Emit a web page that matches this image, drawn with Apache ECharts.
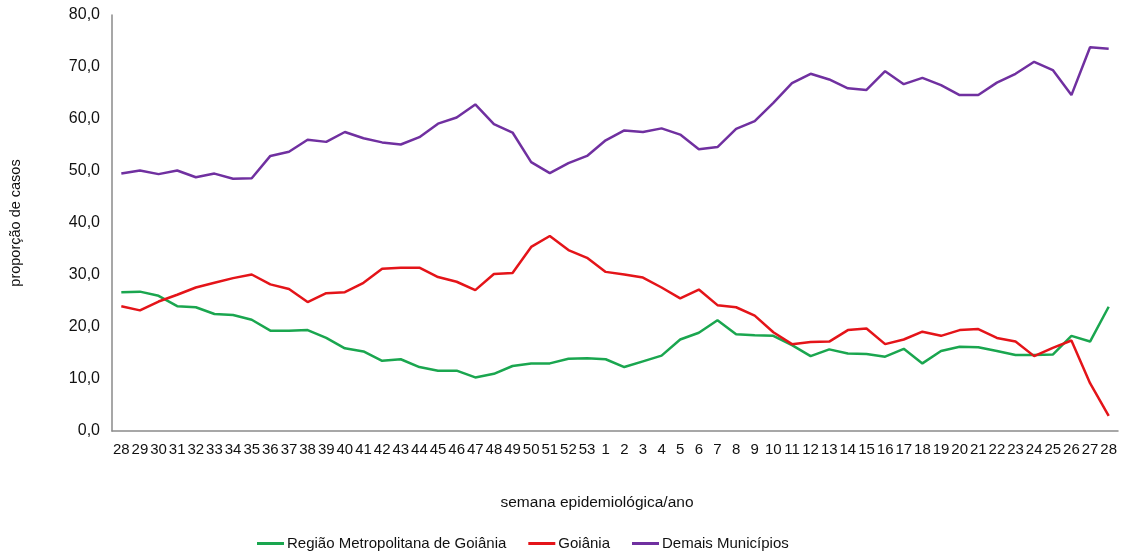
<!DOCTYPE html>
<html>
<head>
<meta charset="utf-8">
<script src="https://cdn.jsdelivr.net/npm/echarts@6/dist/echarts.min.js"></script>
<style>
  html, body { margin: 0; padding: 0; background: #fff; }
  #chart { width: 1126px; height: 551px; }
</style>
</head>
<body>
<div id="chart"></div>
<script>
// semanas epidemiológicas: 28..53 e depois 1..28
const semanas = ['28','29','30','31','32','33','34','35','36','37','38','39','40','41','42','43','44','45','46','47','48','49','50','51','52','53',
  '1','2','3','4','5','6','7','8','9','10','11','12','13','14','15','16','17','18','19','20','21','22','23','24','25','26','27','28']

const regiaoMetropolitana = [26.7, 26.8, 26.0, 24.0, 23.8, 22.5, 22.3, 21.4, 19.3, 19.3, 19.4, 17.9, 15.9, 15.3, 13.5, 13.8, 12.3, 11.6,
  11.6, 10.3, 11.0, 12.5, 13.0, 13.0, 13.9, 14.0, 13.8, 12.3, 13.4, 14.5, 17.6, 18.9, 21.3, 18.6, 18.4, 18.3, 16.5, 14.4,
  15.7, 14.9, 14.8, 14.3, 15.8, 13.0, 15.4, 16.2, 16.1, 15.4, 14.6, 14.6, 14.7, 18.3, 17.2, 23.9]

const goiania = [24.0, 23.2, 24.9, 26.2, 27.6, 28.5, 29.4, 30.1, 28.2, 27.3, 24.8, 26.5, 26.7, 28.5, 31.2, 31.4, 31.4, 29.6,
  28.7, 27.1, 30.2, 30.4, 35.4, 37.5, 34.8, 33.3, 30.6, 30.1, 29.5, 27.6, 25.5, 27.2, 24.2, 23.8, 22.2, 19.0, 16.7, 17.1,
  17.2, 19.4, 19.7, 16.7, 17.6, 19.1, 18.3, 19.4, 19.6, 17.9, 17.2, 14.4, 16.0, 17.4, 9.2, 2.9]

const demaisMunicipios = [49.5, 50.1, 49.4, 50.1, 48.8, 49.5, 48.5, 48.6, 52.9, 53.7, 56.0, 55.6, 57.5, 56.3, 55.5, 55.1, 56.5, 59.1,
  60.3, 62.8, 59.0, 57.4, 51.7, 49.6, 51.5, 52.9, 55.9, 57.8, 57.5, 58.2, 57.0, 54.2, 54.6, 58.1, 59.6, 63.1, 66.9, 68.7,
  67.6, 65.9, 65.6, 69.2, 66.7, 67.9, 66.5, 64.6, 64.6, 67.0, 68.7, 71.0, 69.4, 64.6, 73.8, 73.5]

const fonte = 'Liberation Sans, Arial, sans-serif'

const chart = echarts.init(document.getElementById('chart'))

function serie(name, data, color) {
  return {
    name,
    type: 'line',
    data,
    symbol: 'none',
    lineStyle: { color, width: 2.5 },
    itemStyle: { color },
  }
}

chart.setOption({
  animation: false,
  textStyle: { fontFamily: fonte },
  grid: { left: 109, right: 8, top: 15, bottom: 120, containLabel: false },
  legend: {
    left: 252,
    top: 531,
    icon: 'rect',
    itemWidth: 27,
    itemHeight: 3,
    itemGap: 22,
    textStyle: { fontSize: 15, color: '#111', fontFamily: fonte, padding: [0, 0, 0, -2] },
    data: ['Região Metropolitana de Goiânia', 'Goiânia', 'Demais Municípios'],
  },
  graphic: [{
    type: 'text',
    x: 597,
    y: 503,
    style: {
      text: 'semana epidemiológica/ano',
      font: '15.5px ' + fonte,
      fill: '#111',
      textAlign: 'center',
      textVerticalAlign: 'middle',
    },
  }],
  xAxis: {
    type: 'category',
    data: semanas,
    boundaryGap: true,
    axisLine: { lineStyle: { color: '#8a8a8a', width: 1.5 } },
    axisTick: { show: false },
    axisLabel: { interval: 0, margin: 11, fontSize: 15, color: '#111' },
  },
  yAxis: {
    type: 'value',
    min: 0,
    max: 80,
    interval: 10,
    name: 'proporção de casos',
    nameLocation: 'middle',
    nameGap: 89,
    nameTextStyle: { fontSize: 14.5, color: '#111' },
    axisLine: { show: true, lineStyle: { color: '#8a8a8a', width: 1.5 } },
    axisTick: { show: false },
    splitLine: { show: false },
    axisLabel: {
      margin: 12,
      fontSize: 16,
      color: '#111',
      formatter: (v) => v.toFixed(1).replace('.', ','),
    },
  },
  series: [
    serie('Região Metropolitana de Goiânia', regiaoMetropolitana, '#1aa64f'),
    serie('Goiânia', goiania, '#e41419'),
    serie('Demais Municípios', demaisMunicipios, '#7030a0'),
  ],
})
</script>
</body>
</html>
